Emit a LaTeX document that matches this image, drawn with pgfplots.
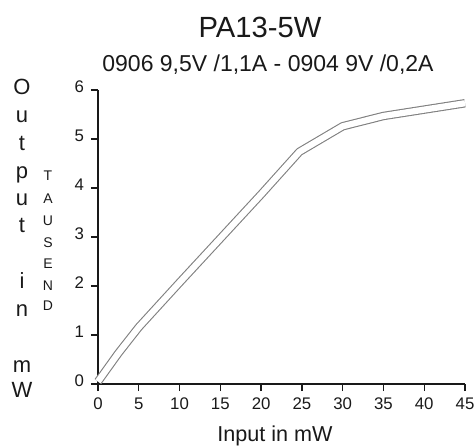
\documentclass[border=0pt]{standalone}
\usepackage{pgfplots}
\pgfplotsset{compat=1.18}
\usepackage{fontspec}
\setmainfont{Liberation Sans}
\begin{document}
\begin{tikzpicture}
\begin{axis}[
  at={(0,0)}, anchor=origin,
  scale only axis,
  width=183.5pt, height=147pt,
  xmin=0, xmax=45, ymin=0, ymax=6,
  axis x line*=bottom, axis y line*=left,
  axis line style={line width=0.75pt, black!90},
  xtick={0,5,...,45}, ytick={0,1,...,6},
  tick align=outside,
  major tick length=3.5pt,
  tick style={line width=0.65pt, black!90},
  ticklabel style={font=\fontsize{8.4}{9}\selectfont, text=black!90},
  yticklabel style={yshift=1.5pt},
  /pgf/number format/assume math mode=true,
  clip=false,
]
% output power (thousand mW) against input power (mW)
\addplot[draw=black!50, line width=0.55pt, double=white, double distance=3.1pt, line join=round]
  coordinates {(0,0.05) (2.5,0.63) (5,1.16) (10,2.07) (15,2.97) (20,3.87) (24.7,4.74)
               (30,5.26) (35,5.47) (40,5.6) (45,5.73)};
\end{axis}
% labels placed in reference pixel coordinates (0.5pt per px)
\begin{scope}[x=0.5pt, y=-0.5pt, shift={(-98,-384)}, text=black!90]
  \node[anchor=base, font=\fontsize{14.6}{17}\selectfont] at (260,37) {PA13-5W};
  \node[anchor=base, font=\fontsize{11.5}{14}\selectfont] at (268,71) {0906 9,5V /1,1A - 0904 9V /0,2A};
  \node[anchor=base, font=\fontsize{10.8}{13}\selectfont] at (275,441) {Input in mW};
  \begin{scope}[every node/.style={anchor=base, font=\fontsize{11}{13}\selectfont}]
    \node at (22,94) {O};
    \node at (22,122) {u};
    \node at (22,150) {t};
    \node at (22,178) {p};
    \node at (22,205) {u};
    \node at (22,232) {t};
    \node at (22,288) {i};
    \node at (22,316) {n};
    \node at (22,372) {m};
    \node at (22,397) {W};
  \end{scope}
  \begin{scope}[every node/.style={anchor=base, font=\fontsize{7}{8}\selectfont}]
    \node at (48,180) {T};
    \node at (48,203) {A};
    \node at (48,225) {U};
    \node at (48,247) {S};
    \node at (48,268) {E};
    \node at (48,290) {N};
    \node at (48,310) {D};
  \end{scope}
  \pgfresetboundingbox
  \path[use as bounding box] (0,0) rectangle (476,447);
\end{scope}
\end{tikzpicture}
\end{document}
